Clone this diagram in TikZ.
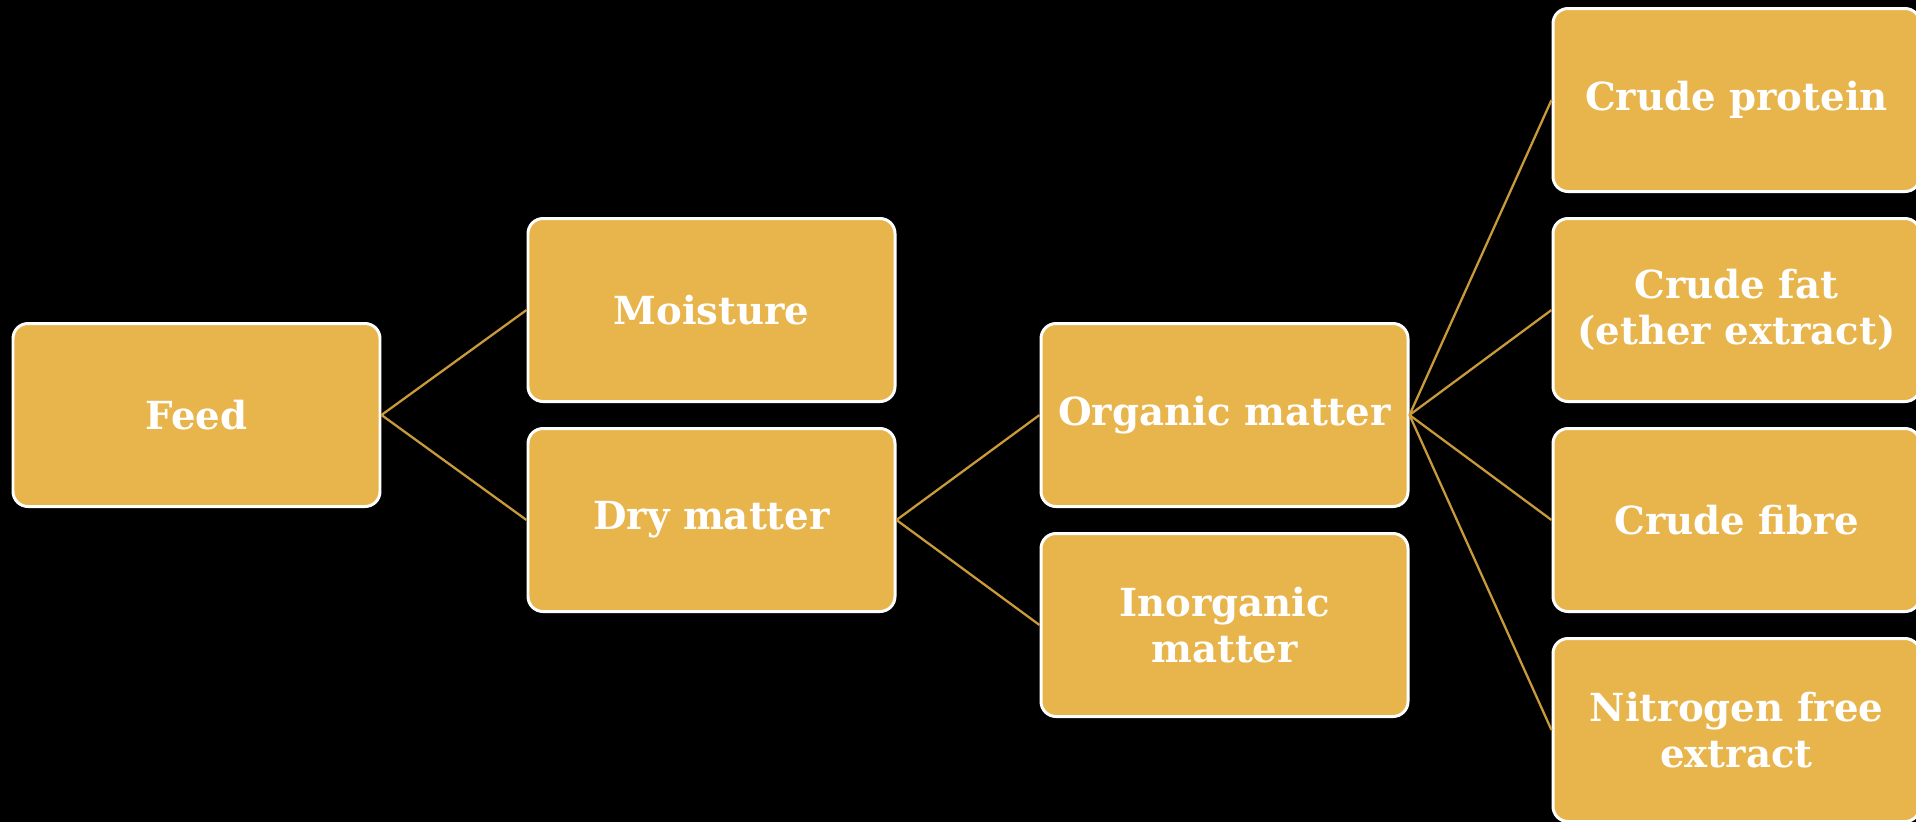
\documentclass[tikz,border=0pt]{standalone}
\usepackage{fontspec}
\setmainfont{DejaVu Serif}
\definecolor{boxfill}{HTML}{E8B44C}
\definecolor{linkcol}{HTML}{C99A3A}
\begin{document}
\begin{tikzpicture}[
  part/.style={draw=white, line width=1.7pt, fill=boxfill, rounded corners=0.3cm,
    minimum width=7.34cm, minimum height=3.66cm, align=center, text=white,
    font=\fontsize{22}{26}\selectfont\bfseries},
  link/.style={draw=linkcol, line width=1.3pt}]
% background
\fill[black] (0,0) rectangle (38.32,-16.44);
\useasboundingbox (0,0) rectangle (38.32,-16.44);
% Feed
\node[part] (feed) at (3.93,-8.30) {Feed};
% Moisture and dry matter
\node[part] (moist) at (14.23,-6.20) {Moisture};
\node[part] (dry) at (14.23,-10.40) {Dry matter};
% Organic / inorganic
\node[part] (org) at (24.49,-8.30) {Organic matter};
\node[part] (inorg) at (24.49,-12.50) {Inorganic\\matter};
% Proximate fractions
\node[part] (cp) at (34.73,-2.00) {Crude protein};
\node[part] (cf) at (34.73,-6.20) {Crude fat\\(ether extract)};
\node[part] (cfib) at (34.73,-10.40) {Crude fibre};
\node[part] (nfe) at (34.73,-14.60) {Nitrogen free\\extract};

% Connections
\draw[link] (feed.east) -- (moist.west);
\draw[link] (feed.east) -- (dry.west);
\draw[link] (dry.east) -- (org.west);
\draw[link] (dry.east) -- (inorg.west);
\draw[link] (org.east) -- (cp.west);
\draw[link] (org.east) -- (cf.west);
\draw[link] (org.east) -- (cfib.west);
\draw[link] (org.east) -- (nfe.west);

\end{tikzpicture}
\end{document}
